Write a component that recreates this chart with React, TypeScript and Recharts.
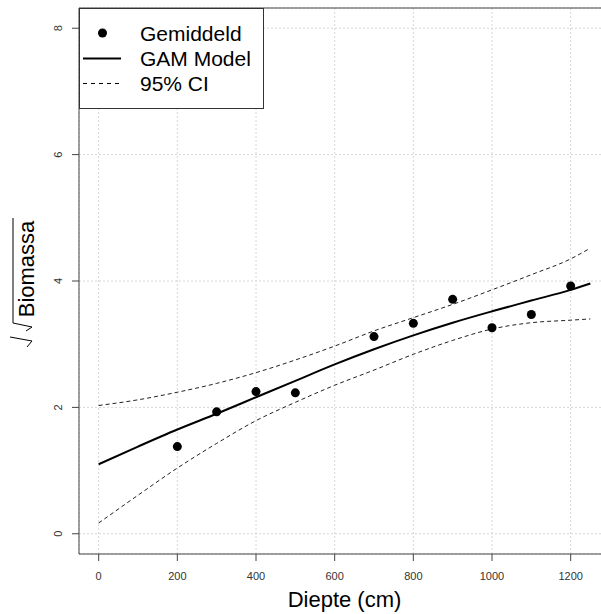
import {
  ComposedChart,
  Line,
  Scatter,
  XAxis,
  YAxis,
  CartesianGrid,
  ReferenceArea,
  Legend,
} from "recharts";

// Gemiddelde sqrt(biomassa) per diepte
const depths = [200, 300, 400, 500, 700, 800, 900, 1000, 1100, 1200];
const meanSqrt = [1.38, 1.93, 2.25, 2.23, 3.12, 3.33, 3.71, 3.26, 3.47, 3.92];

// GAM fit + 95% CI
const curveDepth = [0, 100, 200, 300, 400, 500, 600, 700, 800, 900, 1000, 1100, 1200, 1250];
const gamFit = [1.1, 1.38, 1.65, 1.9, 2.16, 2.42, 2.68, 2.92, 3.14, 3.34, 3.52, 3.69, 3.86, 3.96];
const ciUpper = [2.03, 2.12, 2.24, 2.38, 2.55, 2.75, 2.97, 3.21, 3.42, 3.63, 3.86, 4.1, 4.35, 4.52];
const ciLower = [0.17, 0.61, 1.04, 1.43, 1.79, 2.08, 2.35, 2.59, 2.84, 3.06, 3.24, 3.34, 3.38, 3.4];

const xTicks = [0, 200, 400, 600, 800, 1000, 1200];
const yTicks = [0, 2, 4, 6, 8];

const points = depths.map((x, i) => ({ x, y: meanSqrt[i] }));
const curve = curveDepth.map((x, i) => ({
  x,
  fit: gamFit[i],
  upper: ciUpper[i],
  lower: ciLower[i],
}));

const FONT = "'Liberation Sans', Arial, sans-serif";
const AXIS = "#444";

const XTick = ({ x, payload }: any) => (
  <text x={x} y={580} textAnchor="middle" fontSize={11} fontFamily={FONT} fill="#333">
    {payload.value}
  </text>
);

const YTick = ({ y, payload }: any) => (
  <text
    x={62}
    y={y}
    transform={`rotate(-90 62 ${y})`}
    textAnchor="middle"
    fontSize={11}
    fontFamily={FONT}
    fill="#333"
  >
    {payload.value}
  </text>
);

const XTitle = ({ viewBox }: any) => (
  <text
    x={viewBox.x + viewBox.width / 2}
    y={607}
    textAnchor="middle"
    fontSize={22}
    fontFamily={FONT}
    fill="#000"
  >
    Diepte (cm)
  </text>
);

// sqrt(Biomassa), radical drawn by hand like R's plotmath
const YTitle = () => (
  <g>
    <text
      x={34}
      y={269}
      transform="rotate(-90 34 269)"
      textAnchor="middle"
      fontSize={22}
      fontFamily={FONT}
      fill="#000"
    >
      Biomassa
    </text>
    <path d="M 13 218 L 13 323 L 32 327 L 26 331" fill="none" stroke="#000" strokeWidth={1} />
    <path d="M 10 337 L 32 341 L 27 347" fill="none" stroke="#000" strokeWidth={1} />
  </g>
);

function LegendBox() {
  return (
    <svg width={185} height={101} style={{ display: "block" }}>
      <rect x={0.5} y={0.5} width={184} height={100} fill="#fff" stroke="#333" />
      <circle cx={23.5} cy={25} r={4.5} fill="#000" />
      <line x1={4} x2={42} y1={50.5} y2={50.5} stroke="#000" strokeWidth={2} />
      <line x1={4} x2={42} y1={75.5} y2={75.5} stroke="#000" strokeWidth={1} strokeDasharray="4 4" />
      <g fontSize={21} fontFamily={FONT} fill="#000">
        <text x={61} y={32.5}>Gemiddeld</text>
        <text x={61} y={57.5}>GAM Model</text>
        <text x={61} y={82.5}>95% CI</text>
      </g>
    </svg>
  );
}

export default function App() {
  return (
    <div
      style={{
        position: "absolute",
        left: 0,
        top: 0,
        width: 601,
        height: 614,
        overflow: "hidden",
        background: "#fff",
      }}
    >
      <ComposedChart width={620} height={614} margin={{ top: 8, right: 10, bottom: 0, left: 0 }}>
        <CartesianGrid stroke="#d6d6d6" strokeDasharray="2 2" />
        <XAxis
          dataKey="x"
          type="number"
          domain={[-50, 1300]}
          ticks={xTicks}
          allowDataOverflow
          height={60}
          axisLine={false}
          tickSize={7}
          tickLine={{ stroke: AXIS }}
          tick={<XTick />}
          label={<XTitle />}
        />
        <YAxis
          type="number"
          domain={[-0.32, 8.32]}
          ticks={yTicks}
          allowDataOverflow
          width={79}
          axisLine={false}
          tickSize={7}
          tickLine={{ stroke: AXIS }}
          tick={<YTick />}
          label={<YTitle />}
        />
        <ReferenceArea
          x1={-50}
          x2={1300}
          y1={-0.32}
          y2={8.32}
          fill="none"
          stroke={AXIS}
          strokeWidth={1}
          ifOverflow="visible"
        />
        <Line
          data={curve}
          dataKey="upper"
          type="monotone"
          stroke="#222"
          strokeWidth={1}
          strokeDasharray="4 3"
          dot={false}
          isAnimationActive={false}
        />
        <Line
          data={curve}
          dataKey="lower"
          type="monotone"
          stroke="#222"
          strokeWidth={1}
          strokeDasharray="4 3"
          dot={false}
          isAnimationActive={false}
        />
        <Line
          data={curve}
          dataKey="fit"
          type="monotone"
          stroke="#000"
          strokeWidth={2}
          dot={false}
          isAnimationActive={false}
        />
        <Scatter
          data={points}
          dataKey="y"
          isAnimationActive={false}
          shape={(p: any) => <circle cx={p.cx} cy={p.cy} r={4.5} fill="#000" />}
        />
        <Legend
          layout="vertical"
          align="center"
          verticalAlign="middle"
          wrapperStyle={{ left: 79, top: 8, width: 185, height: 101 }}
          content={() => <LegendBox />}
        />
      </ComposedChart>
    </div>
  );
}
